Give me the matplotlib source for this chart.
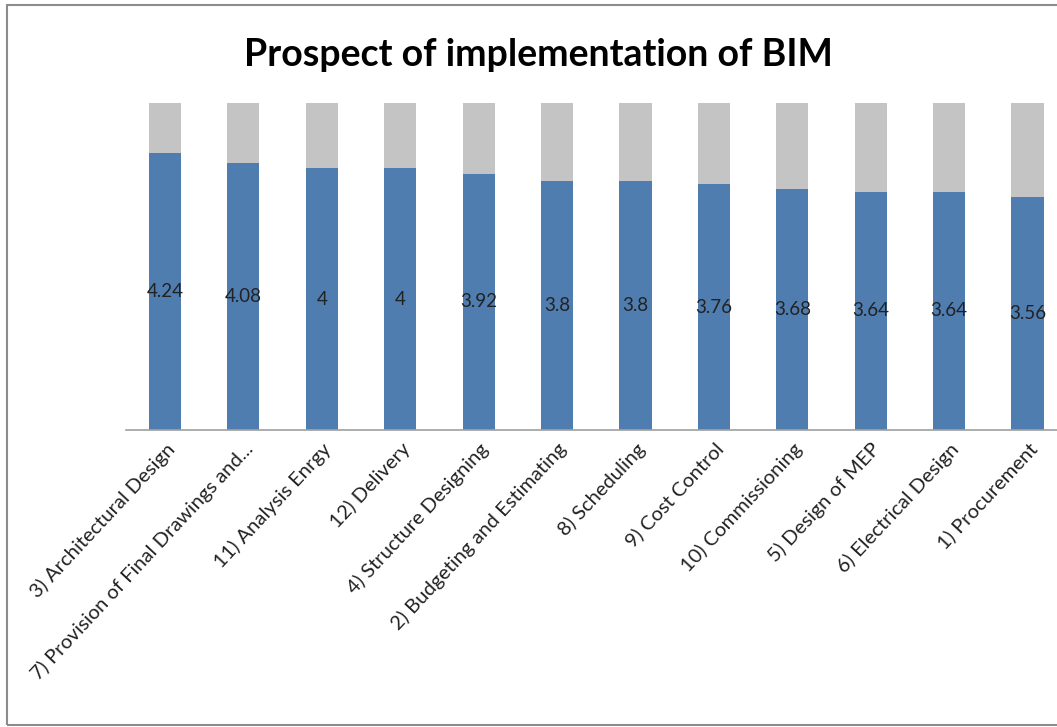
import matplotlib.pyplot as plt
from matplotlib.patches import Rectangle

categories = ["3) Architectural Design", "7) Provision of Final Drawings and...",
              "11) Analysis Enrgy", "12) Delivery", "4) Structure Designing",
              "2) Budgeting and Estimating", "8) Scheduling", "9) Cost Control",
              "10) Commissioning", "5) Design of MEP", "6) Electrical Design",
              "1) Procurement"]
scores = [4.24, 4.08, 4, 4, 3.92, 3.8, 3.8, 3.76, 3.68, 3.64, 3.64, 3.56]
labels = ["4.24", "4.08", "4", "4", "3.92", "3.8", "3.8", "3.76", "3.68", "3.64", "3.64", "3.56"]
max_score = 5
rest = [max_score - s for s in scores]

plt.rcParams['font.family'] = ['Lato', 'DejaVu Sans']

W, H = 1057, 727
fig = plt.figure(figsize=(W / 100, H / 100), dpi=100)

# outer chart border (right edge is cropped in the original)
fig.patches.append(Rectangle((7 / W, 1 - 725 / H), 1.2, (725 - 5) / H,
                             transform=fig.transFigure, fill=False,
                             edgecolor='#8c8c8c', linewidth=1.5))

left, right = 125.8, 1066.7
base, top = 430, 103
ax = fig.add_axes([left / W, 1 - base / H, (right - left) / W, (base - top) / H])

x = range(len(categories))
ax.bar(x, scores, width=0.41, color='#4f7db0', edgecolor='none')
ax.bar(x, rest, bottom=scores, width=0.41, color='#c4c4c4', edgecolor='none')

for i, (s, lab) in enumerate(zip(scores, labels)):
    ax.text(i, s / 2, lab, ha='center', va='center', fontsize=13.5, color='#222222')

ax.set_xlim(-0.5, len(categories) - 0.5)
ax.set_ylim(0, max_score)
ax.set_yticks([])
ax.set_xticks(list(x))
ax.set_xticklabels(categories, rotation=47, ha='right', va='top',
                   rotation_mode='anchor', fontsize=14.5, color='#222222')
ax.tick_params(axis='x', length=0, pad=7)
for side in ['top', 'right', 'left']:
    ax.spines[side].set_visible(False)
ax.spines['bottom'].set_color('#a0a0a0')
ax.spines['bottom'].set_linewidth(1.2)

fig.text(538 / W, 1 - 55 / H, "Prospect of implementation of BIM", ha='center', va='center',
         fontsize=27, fontweight='bold', color='black')

fig.savefig('out.png', dpi=100)
